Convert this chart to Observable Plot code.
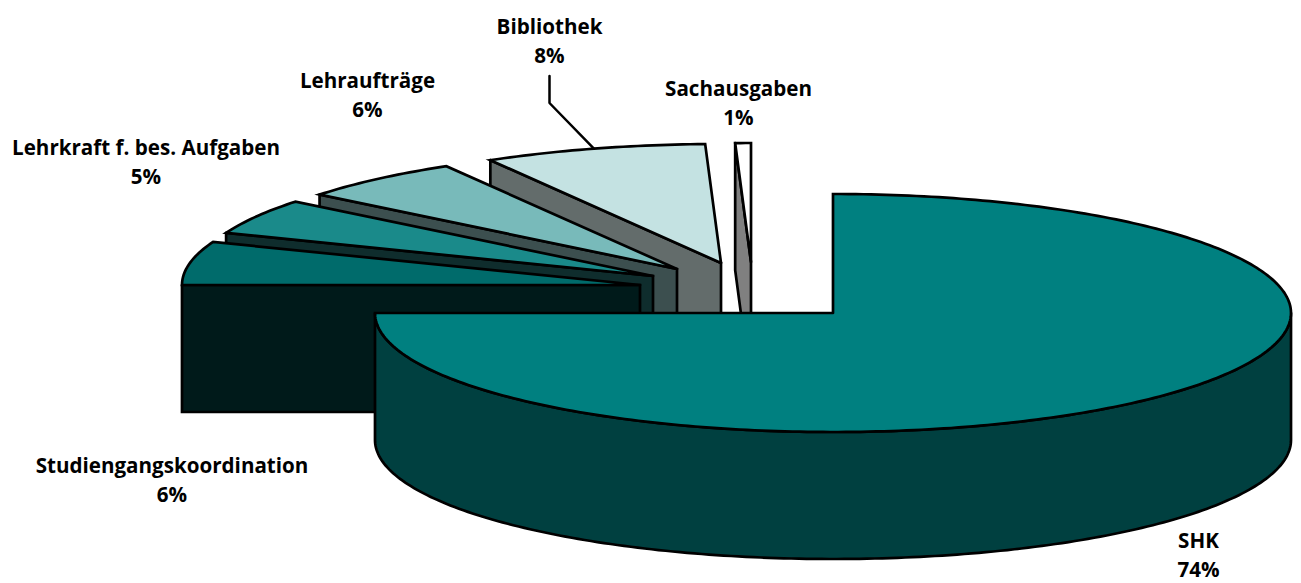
<!DOCTYPE html>
<html>
<head>
<meta charset="utf-8">
<script src="https://cdn.jsdelivr.net/npm/d3@7"></script>
<script src="https://cdn.jsdelivr.net/npm/@observablehq/plot@0.6"></script>
<style>html,body{margin:0;padding:0;background:#fff}svg{display:block}</style>
</head>
<body>
<div id="chart"></div>
<script>
// --- data ---
const categories = ["SHK", "Studiengangskoordination", "Lehrkraft f. bes. Aufgaben", "Lehraufträge", "Bibliothek", "Sachausgaben"];
const percentLabels = ["74%", "6%", "5%", "6%", "8%", "1%"];
// slice sizes as read from the drawn sweep of each slice (share of the full turn)
const drawnShares = [75.0, 5.9, 4.85, 5.85, 7.85, 0.55];

// --- styling and layout ---
const topColors = ["#008080", "#006b6b", "#1a8a8a", "#78baba", "#c4e2e2", "#ffffff"];
const wallColors = ["#004040", "#001a1a", "#0f2d2d", "#3c4f4f", "#636c6b", "#808080"];
const center = [832.5, 312.5], rx = 458, ry = 119, depth = 127;
const explodeX = [0, -193, -180, -156, -112, -82];
const explodeY = [0, -28, -37, -44, -50, -51];
const labelX = [1198, 171.5, 145.5, 367, 549, 738];
const labelY = [553, 477.5, 159.5, 92.5, 38.5, 100.5];

// slices run clockwise from 12 o'clock; angle in the pie's own circle
let acc = 0;
const slices = categories.map((name, i) => {
  const a0 = acc / 100 * 2 * Math.PI;
  acc += drawnShares[i];
  const a1 = acc / 100 * 2 * Math.PI;
  return {name, i, a0, a1, cx: center[0] + explodeX[i], cy: center[1] + explodeY[i]};
});
const rim = (s, a, dz = 0) => ({x: s.cx + rx * Math.sin(a), y: s.cy - ry * Math.cos(a) + dz});
const arc = (s, a0, a1, dz = 0) => {
  const n = Math.max(2, Math.ceil(Math.abs(a1 - a0) * 60));
  return d3.range(n + 1).map(k => rim(s, a0 + (a1 - a0) * k / n, dz));
};
const apex = (s, dz = 0) => ({x: s.cx, y: s.cy + dz});
const face = (pts, fill) => Plot.line([...pts, pts[0]], {
  x: "x", y: "y", fill, stroke: "#000", strokeWidth: 2.7, strokeLinejoin: "miter", strokeMiterlimit: 4
});

const marks = [];
// leader of the Bibliothek label ends at the middle of its arc
const bib = slices[4];
const bibMid = rim(bib, (bib.a0 + bib.a1) / 2);
marks.push(Plot.line([
  {x: labelX[4], y: labelY[4] + 37},
  {x: labelX[4], y: labelY[4] + 64},
  bibMid
], {x: "x", y: "y", stroke: "#000", strokeWidth: 2.5, strokeLinejoin: "miter"}));

// exploded slices, back to front
for (const s of slices.slice(1).reverse()) {
  const p = rim(s, s.a0), q = rim(s, s.a0, depth);
  marks.push(face([p, apex(s), apex(s, depth), q], wallColors[s.i]));
  marks.push(face([apex(s), ...arc(s, s.a0, s.a1)], topColors[s.i]));
}
// SHK: rim then top
const shk = slices[0];
marks.push(face([...arc(shk, Math.PI / 2, shk.a1), ...arc(shk, shk.a1, Math.PI / 2, depth)], wallColors[0]));
marks.push(face([apex(shk), ...arc(shk, shk.a0, shk.a1)], topColors[0]));

// labels
marks.push(Plot.text(categories.map((c, i) => ({text: c + "\n" + percentLabels[i], x: labelX[i], y: labelY[i]})), {
  x: "x", y: "y", text: "text", fill: "#000", lineHeight: 1.4, fontSize: 20.6,
  fontFamily: "'Open Sans'", fontWeight: 700, textAnchor: "middle", lineAnchor: "middle"
}));

const chart = Plot.plot({
  width: 1301, height: 583, margin: 0,
  x: {domain: [0, 1301], range: [0, 1301], axis: null},
  y: {domain: [0, 583], range: [0, 583], axis: null},
  marks
});
document.getElementById("chart").appendChild(chart);
</script>
</body>
</html>
